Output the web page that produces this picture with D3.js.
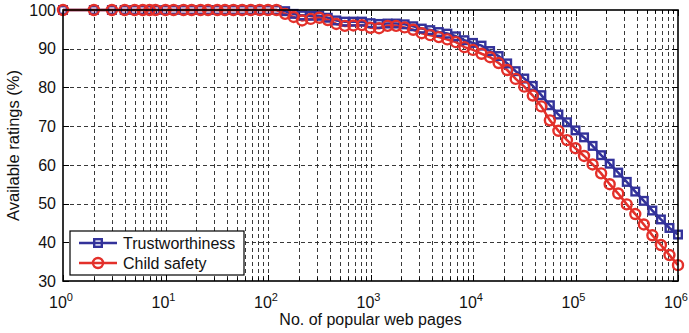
<!DOCTYPE html>
<html>
<head>
<meta charset="utf-8">
<script src="https://cdn.jsdelivr.net/npm/d3@7"></script>
<style>
  body { margin: 0; background: #fff; }
  svg text { font-family: "Liberation Sans", Arial, sans-serif; fill: #111; }
</style>
</head>
<body>
<svg id="chart" width="689" height="333"></svg>
<script>
// popular web pages (x values)
var pages = [1, 2, 3, 4, 5, 6, 7, 8, 10, 12, 15, 18, 22, 26, 32, 38, 46, 56, 68, 83,
  100, 121, 147, 178, 215, 261, 316, 383, 464, 562, 681, 825,
  1000, 1212, 1468, 1778, 2154, 2610, 3162, 3831, 4642, 5623, 6813, 8254,
  10000, 12115, 14678, 17783, 21544, 26102, 31623, 38312, 46416, 56234, 68129, 82540,
  100000, 121153, 146780, 177828, 215443, 261016, 316228, 383119, 464159, 562341, 681292, 825404,
  1000000];

// available ratings (%)
var trustworthiness = [100, 100, 100, 100, 100, 100, 100, 100, 100, 100, 100, 100, 100, 100, 100, 100, 100, 100, 100, 100,
  100, 100, 99.7, 99.0, 98.6, 98.5, 98.5, 98.0,
  97.3, 97.0, 97.0, 97.0, 96.6, 96.4, 96.5, 96.5, 96.3, 95.8, 95.2, 94.8,
  94.3, 93.9, 93.2, 92.2, 91.5, 90.8, 89.4, 88.1, 86.2, 84.2, 82.3, 80.4,
  78.0, 75.4, 73.0, 71.0, 68.9, 67.1, 64.9, 62.5, 60.3, 58.0, 55.6, 53.1,
  50.7, 48.2, 45.9, 43.7, 42.0];

var childSafety = [100, 100, 100, 100, 100, 100, 100, 100, 100, 100, 100, 100, 100, 100, 100, 100, 100, 100, 100, 100,
  100, 100, 99.0, 98.2, 97.3, 97.7, 98.0, 97.4,
  96.4, 95.9, 96.0, 96.1, 95.4, 95.3, 95.9, 95.9, 95.5, 94.9, 94.0, 93.5,
  93.0, 92.4, 91.7, 90.4, 89.7, 88.7, 87.8, 86.3, 84.5, 82.2, 80.2, 77.9,
  75.1, 71.5, 68.8, 66.4, 64.3, 62.3, 60.1, 57.8, 55.0, 52.6, 49.8, 47.3,
  44.6, 41.8, 39.3, 36.7, 34.1];

var yTicks = [30, 40, 50, 60, 70, 80, 90, 100];
var xTicks = [1, 10, 100, 1000, 10000, 100000, 1000000];
var seriesNames = ["Trustworthiness", "Child safety"];
var seriesColors = ["#33329a", "#e3302a"];

var margin = {left: 63, right: 11, top: 10, bottom: 52};
var width = 689, height = 333;

var svg = d3.select("#chart");

var x = d3.scaleLog()
  .domain([1, 1000000])
  .range([margin.left, width - margin.right]);

var y = d3.scaleLinear()
  .domain([30, 100])
  .range([height - margin.bottom, margin.top]);

// minor tick values (2..9 of each decade)
var minor = [];
for (var e = 0; e < 6; e++) {
  for (var m = 2; m <= 9; m++) minor.push(m * Math.pow(10, e));
}

var grid = svg.append("g").attr("class", "grid")
  .attr("stroke", "#222")
  .attr("stroke-width", 0.9)
  .attr("stroke-dasharray", "4,3");

// vertical grid lines
grid.selectAll(".vg")
  .data(xTicks.slice(1, -1).concat(minor))
  .enter().append("line")
  .attr("x1", function (d) { return Math.round(x(d)) + 0.5; })
  .attr("x2", function (d) { return Math.round(x(d)) + 0.5; })
  .attr("y1", y(100))
  .attr("y2", y(30));

// horizontal grid lines
grid.selectAll(".hg")
  .data(yTicks.slice(1, -1))
  .enter().append("line")
  .attr("x1", x(1))
  .attr("x2", x(1000000))
  .attr("y1", function (d) { return Math.round(y(d)) + 0.5; })
  .attr("y2", function (d) { return Math.round(y(d)) + 0.5; });

// ticks pointing inward on all sides
var ticks = svg.append("g").attr("stroke", "#000").attr("stroke-width", 1);
xTicks.concat(minor).forEach(function (d) {
  var len = xTicks.indexOf(d) >= 0 ? 6 : 3.5;
  var px = Math.round(x(d)) + 0.5;
  ticks.append("line").attr("x1", px).attr("x2", px).attr("y1", y(30)).attr("y2", y(30) - len);
  ticks.append("line").attr("x1", px).attr("x2", px).attr("y1", y(100)).attr("y2", y(100) + len);
});
yTicks.forEach(function (d) {
  var py = Math.round(y(d)) + 0.5;
  ticks.append("line").attr("x1", x(1)).attr("x2", x(1) + 6).attr("y1", py).attr("y2", py);
  ticks.append("line").attr("x1", x(1000000)).attr("x2", x(1000000) - 6).attr("y1", py).attr("y2", py);
});

// y tick labels
svg.append("g").selectAll("text")
  .data(yTicks)
  .enter().append("text")
  .attr("x", margin.left - 7)
  .attr("y", function (d) { return y(d); })
  .attr("dy", "0.36em")
  .attr("text-anchor", "end")
  .style("font-size", "16px")
  .text(function (d) { return d; });

// x tick labels 10^n
var xl = svg.append("g").selectAll("text")
  .data(xTicks)
  .enter().append("text")
  .attr("x", function (d) { return x(d) - 2; })
  .attr("y", y(30) + 27)
  .attr("text-anchor", "middle")
  .style("font-size", "16px");
xl.append("tspan").text("10");
xl.append("tspan")
  .attr("dy", "-7")
  .style("font-size", "11px")
  .text(function (d) { return Math.round(Math.log10(d)); });

// axis titles
svg.append("text")
  .attr("x", (x(1) + x(1000000)) / 2)
  .attr("y", 325)
  .attr("text-anchor", "middle")
  .style("font-size", "16px")
  .text("No. of popular web pages");

svg.append("text")
  .attr("transform", "translate(19," + ((y(30) + y(100)) / 2) + ") rotate(-90)")
  .attr("text-anchor", "middle")
  .style("font-size", "16.5px")
  .text("Available ratings (%)");

// series lines
var line = d3.line()
  .x(function (d, i) { return x(pages[i]); })
  .y(function (d) { return y(d); });

var data = [trustworthiness, childSafety];

svg.append("g").selectAll("path")
  .data(data)
  .enter().append("path")
  .attr("d", line)
  .attr("fill", "none")
  .attr("stroke", function (d, i) { return seriesColors[i]; })
  .attr("stroke-width", 2.6);

// markers
function drawMarker(g, kind, cx, cy) {
  if (kind === 0) {
    g.append("rect")
      .attr("x", cx - 3.8).attr("y", cy - 3.8)
      .attr("width", 7.6).attr("height", 7.6)
      .attr("fill", "none")
      .attr("stroke", seriesColors[0])
      .attr("stroke-width", 2.4);
  } else {
    g.append("circle")
      .attr("cx", cx).attr("cy", cy).attr("r", 5)
      .attr("fill", "none")
      .attr("stroke", seriesColors[1])
      .attr("stroke-width", 2.4);
  }
}

data.forEach(function (vals, s) {
  var g = svg.append("g");
  vals.forEach(function (v, i) { drawMarker(g, s, x(pages[i]), y(v)); });
});

// box
svg.append("rect")
  .attr("x", x(1)).attr("y", y(100))
  .attr("width", x(1000000) - x(1))
  .attr("height", y(30) - y(100))
  .attr("fill", "none")
  .attr("stroke", "#000")
  .attr("stroke-width", 1.6);

// legend
var lg = svg.append("g").attr("transform", "translate(70,231)");
lg.append("rect")
  .attr("width", 174).attr("height", 44)
  .attr("fill", "#fff")
  .attr("stroke", "#000")
  .attr("stroke-width", 1.2);
seriesNames.forEach(function (name, i) {
  var ly = 12 + i * 20;
  lg.append("line")
    .attr("x1", 9).attr("x2", 47)
    .attr("y1", ly).attr("y2", ly)
    .attr("stroke", seriesColors[i])
    .attr("stroke-width", 2.5);
  drawMarker(lg, i, 28, ly);
  lg.append("text")
    .attr("x", 53).attr("y", ly)
    .attr("dy", "0.36em")
    .style("font-size", "16px")
    .text(name);
});
</script>
</body>
</html>
